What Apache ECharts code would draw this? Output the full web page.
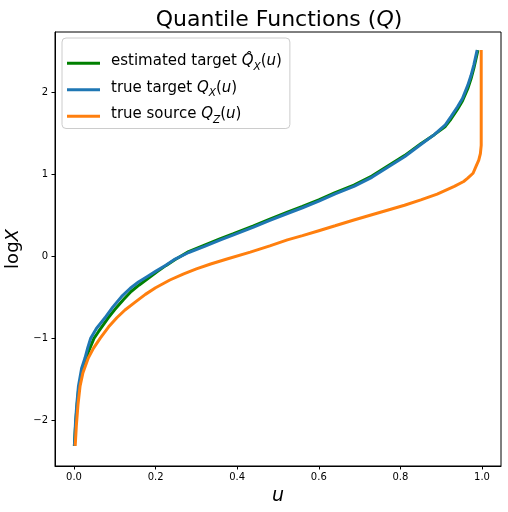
<!DOCTYPE html>
<html>
<head>
<meta charset="utf-8">
<script src="https://cdn.jsdelivr.net/npm/echarts@6/dist/echarts.min.js"></script>
<style>
  html, body { margin: 0; padding: 0; background: #fff; }
  #chart { width: 508px; height: 512px; }
</style>
</head>
<body>
<div id="chart"></div>
<script>
// quantile levels and log-values
const uEstimated = [0.001, 0.004, 0.007, 0.011, 0.019, 0.027, 0.034, 0.049, 0.060, 0.084, 0.100, 0.121, 0.140, 0.160, 0.187, 0.205, 0.225, 0.248, 0.281, 0.320, 0.359, 0.391, 0.440, 0.480, 0.523, 0.560, 0.600, 0.640, 0.686, 0.730, 0.768, 0.810, 0.850, 0.883, 0.910, 0.924, 0.940, 0.952, 0.965, 0.973, 0.980, 0.990]
const qEstimated = [-2.31, -2.05, -1.85, -1.64, -1.42, -1.30, -1.18, -1.00, -0.92, -0.75, -0.65, -0.53, -0.43, -0.35, -0.25, -0.185, -0.115, -0.04, 0.055, 0.135, 0.215, 0.275, 0.37, 0.45, 0.535, 0.605, 0.685, 0.775, 0.865, 0.975, 1.095, 1.225, 1.37, 1.48, 1.58, 1.67, 1.79, 1.89, 2.04, 2.16, 2.29, 2.51]

const uTarget = [0.001, 0.004, 0.007, 0.011, 0.019, 0.027, 0.034, 0.041, 0.055, 0.076, 0.095, 0.117, 0.138, 0.158, 0.179, 0.200, 0.225, 0.248, 0.281, 0.320, 0.359, 0.391, 0.440, 0.480, 0.523, 0.560, 0.600, 0.640, 0.686, 0.730, 0.768, 0.810, 0.850, 0.883, 0.910, 0.924, 0.940, 0.952, 0.965, 0.973, 0.980, 0.988]
const qTarget = [-2.31, -2.00, -1.80, -1.58, -1.36, -1.24, -1.11, -1.00, -0.88, -0.75, -0.62, -0.49, -0.39, -0.315, -0.25, -0.185, -0.11, -0.035, 0.045, 0.12, 0.198, 0.26, 0.355, 0.435, 0.52, 0.59, 0.67, 0.76, 0.85, 0.96, 1.08, 1.21, 1.36, 1.48, 1.60, 1.70, 1.82, 1.92, 2.08, 2.20, 2.33, 2.51]

const uSource = [0.003, 0.006, 0.010, 0.015, 0.022, 0.035, 0.048, 0.064, 0.085, 0.105, 0.125, 0.150, 0.175, 0.200, 0.235, 0.269, 0.300, 0.335, 0.375, 0.432, 0.480, 0.523, 0.560, 0.600, 0.640, 0.686, 0.730, 0.768, 0.810, 0.850, 0.890, 0.932, 0.955, 0.965, 0.978, 0.985, 0.992, 0.996, 0.998, 0.998, 0.998, 0.998]
const qSource = [-2.31, -2.05, -1.80, -1.58, -1.42, -1.24, -1.12, -1.00, -0.86, -0.75, -0.655, -0.56, -0.465, -0.385, -0.29, -0.215, -0.155, -0.095, -0.035, 0.05, 0.125, 0.198, 0.25, 0.31, 0.37, 0.44, 0.505, 0.56, 0.62, 0.685, 0.755, 0.85, 0.91, 0.95, 1.01, 1.09, 1.17, 1.25, 1.35, 1.60, 2.00, 2.51]

const xTicks = [0, 0.2, 0.4, 0.6, 0.8, 1.0]
const yTicks = [-2, -1, 0, 1, 2]

const seriesNames = ['estimated', 'target', 'source']

const FONT = 'DejaVu Sans'

function zip(xs, ys) {
  return xs.map((x, i) => [x, ys[i]])
}

const chart = echarts.init(document.getElementById('chart'), null, { renderer: 'canvas' })

const lineSeries = (name, color, data) => ({
  name,
  type: 'line',
  data,
  showSymbol: false,
  smooth: false,
  animation: false,
  lineStyle: { color, width: 3 },
  itemStyle: { color }
})

const norm = { fontFamily: FONT, fontSize: 15, color: '#000', verticalAlign: 'top' }
const ital = Object.assign({}, norm, { fontStyle: 'italic' })
const sub = { fontFamily: FONT, fontSize: 10.5, fontStyle: 'italic', color: '#000', verticalAlign: 'top', padding: [7.5, 0, 0, 0] }

chart.setOption({
  backgroundColor: '#fff',
  title: {
    text: 'Quantile Functions ({i|Q})',
    left: 274,
    textAlign: 'center',
    top: 4,
    textStyle: {
      fontFamily: FONT,
      fontSize: 22,
      fontWeight: 'normal',
      color: '#000',
      rich: { i: { fontFamily: FONT, fontSize: 22, fontStyle: 'italic', color: '#000' } }
    }
  },
  grid: {
    left: 55,
    right: 7,
    top: 32,
    bottom: 46,
    outerBoundsMode: 'none',
    containLabel: false,
    show: true,
    borderColor: '#000',
    borderWidth: 1
  },
  legend: {
    orient: 'vertical',
    left: 62,
    top: 38,
    padding: [16, 8, 3, 5],
    itemGap: 8,
    itemWidth: 33,
    itemHeight: 3,
    icon: 'rect',
    backgroundColor: 'rgba(255,255,255,0.8)',
    borderColor: '#cccccc',
    borderWidth: 1,
    borderRadius: 4,
    data: seriesNames,
    formatter: function (name) {
      if (name === 'estimated') return '{n|estimated target }{i|Q\u0302}{s|X}{n|(}{i|u}{n|)}'
      if (name === 'target') return '{n|true target }{i|Q}{s|X}{n|(}{i|u}{n|)}'
      return '{n|true source }{i|Q}{s|Z}{n|(}{i|u}{n|)}'
    },
    textStyle: {
      padding: [0, 0, 0, 6],
      rich: { n: norm, i: ital, s: sub }
    }
  },
  xAxis: {
    type: 'value',
    min: -0.0465,
    max: 1.0465,
    name: 'u',
    nameLocation: 'middle',
    nameGap: 21,
    nameTextStyle: { fontFamily: FONT, fontSize: 19, fontStyle: 'italic', color: '#000' },
    axisLine: { show: true, onZero: false, lineStyle: { color: '#000', width: 1 } },
    axisTick: { show: true, length: 3.5, customValues: xTicks, lineStyle: { color: '#000' } },
    axisLabel: {
      customValues: xTicks,
      fontFamily: FONT,
      fontSize: 10,
      color: '#000',
      margin: 6,
      formatter: v => v.toFixed(1)
    },
    splitLine: { show: false }
  },
  yAxis: {
    type: 'value',
    min: -2.555,
    max: 2.73,
    name: 'log{i|X}',
    nameLocation: 'middle',
    nameGap: 26,
    nameRotate: 90,
    nameTextStyle: {
      fontFamily: FONT,
      fontSize: 18,
      color: '#000',
      rich: { i: { fontFamily: FONT, fontSize: 18, fontStyle: 'italic', color: '#000' } }
    },
    axisLine: { show: true, onZero: false, lineStyle: { color: '#000', width: 1 } },
    axisTick: { show: true, length: 3.5, customValues: yTicks, lineStyle: { color: '#000' } },
    axisLabel: {
      customValues: yTicks,
      fontFamily: FONT,
      fontSize: 10,
      color: '#000',
      margin: 7,
      formatter: v => (v < 0 ? '\u2212' + Math.abs(v) : String(v))
    },
    splitLine: { show: false }
  },
  series: [
    lineSeries('estimated', '#008000', zip(uEstimated, qEstimated)),
    lineSeries('target', '#1f77b4', zip(uTarget, qTarget)),
    lineSeries('source', '#ff7f0e', zip(uSource, qSource))
  ]
})
</script>
</body>
</html>
